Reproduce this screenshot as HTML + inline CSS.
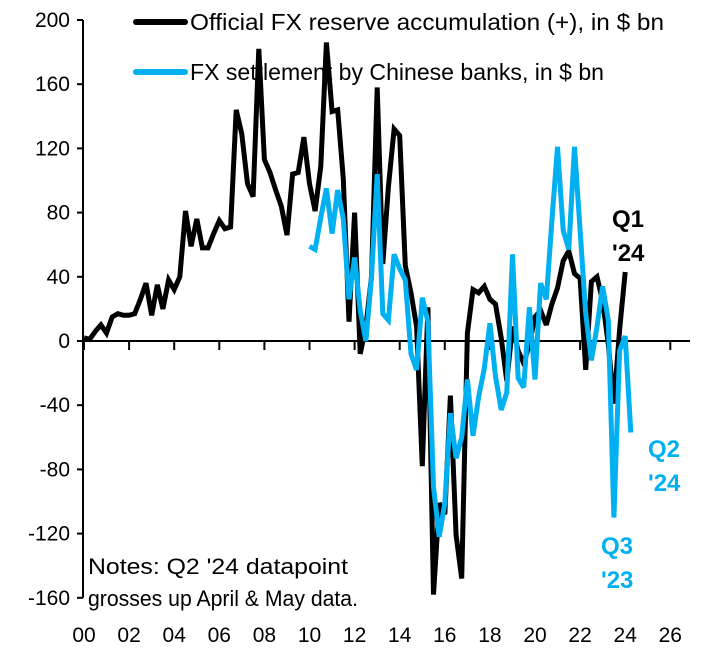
<!DOCTYPE html>
<html><head><meta charset="utf-8"><style>
html,body{margin:0;padding:0;background:#fff;}
svg{display:block;font-family:"Liberation Sans",sans-serif;}
</style></head><body>
<svg id="chart" width="707" height="652" viewBox="0 0 707 652"></svg>
<script>
const yTicks=[200,160,120,80,40,0,-40,-80,-120,-160];
const xLabels=["00","02","04","06","08","10","12","14","16","18","20","22","24","26"];
const reserveStartQ=0;
const reserveValues=[2,1,6,10,5,15,17,16,16,17,26,36,16,35,20,38,32,40,81,59,76,58,58,67,75,70,71,144,129,98,90,182,113,105,94,84,66,104,105,127,98,81,109,186,143,144,101,12,80,-8,9,40,158,48,96,132,128,47,30,9,-78,21,-158,-101,-108,-34,-121,-148,5,32,30,34,26,23,2,-25,9,-6,-14,-2,15,19,10,23,33,50,56,42,39,-18,37,40,25,-2,-39,7,43];
const settleStartQ=40;
const settleValues=[59,57,77,95,67,94,76,26,52,19,0,40,104,17,13,54,45,38,-8,-18,27,12,-91,-122,-101,-45,-73,-60,-24,-59,-35,-17,11,-22,-43,-32,54,-23,-29,21,-24,36,26,75,121,69,57,121,69,17,-12,9,34,13,-110,-6,3,-57];
const ns="http://www.w3.org/2000/svg";
const svg=document.getElementById('chart');
const X0=84,PXY=22.55;
function xq(q){return X0+PXY*q/4;}
function yv(v){return 341-v*1.605;}
function mk(t,a){const e=document.createElementNS(ns,t);for(const k in a)e.setAttribute(k,a[k]);svg.appendChild(e);return e;}
let ax=mk('line',{x1:83,y1:yv(200),x2:83,y2:yv(-160),stroke:'#000','stroke-width':2});


let xa=mk('line',{x1:83,y1:341,x2:690,y2:341,stroke:'#000','stroke-width':2});


yTicks.forEach(v=>{
  const t=mk('line',{x1:77,y1:yv(v),x2:83,y2:yv(v),stroke:'#000','stroke-width':2});
  
  
  const l=mk('text',{x:70,y:yv(v)+7,'text-anchor':'end','font-size':21,fill:'#000'});
  l.textContent=v;
  
  
});
xLabels.forEach((s,i)=>{
  const x=xq(i*8);
  const t=mk('line',{x1:x,y1:341,x2:x,y2:350,stroke:'#000','stroke-width':2});
  
  
  const l=mk('text',{x:x,y:642,'text-anchor':'middle','font-size':21,fill:'#000'});
  l.textContent=s;
  
  
});
function series(vals,start,color,name){
  const pts=vals.map((v,i)=>xq(start+i).toFixed(1)+','+yv(v).toFixed(1)).join(' ');
  const p=mk('polyline',{points:pts,fill:'none',stroke:color,'stroke-width':5,'stroke-linejoin':'miter','stroke-miterlimit':3});
  
  
}
series(reserveValues,reserveStartQ,'#000','reserve-line');
series(settleValues,settleStartQ,'#00b0f0','settlement-line');
const lg=[['#000','Official FX reserve accumulation (+), in $ bn',22,474],['#00b0f0','FX settlement by Chinese banks, in $ bn',72,414]];
lg.forEach((d,i)=>{
  const l=mk('line',{x1:136,y1:d[2],x2:185,y2:d[2],stroke:d[0],'stroke-width':6,'stroke-linecap':'round'});
  
  
  const t=mk('text',{x:190,y:d[2]+8,'font-size':23,fill:'#000',textLength:d[3],lengthAdjust:'spacingAndGlyphs'});
  t.textContent=d[1];
  
  
});
const ann=[['Q1',"'24",612,227,'#000'],['Q2',"'24",648,457,'#00b0f0'],['Q3',"'23",601,554,'#00b0f0']];
ann.forEach(a=>{
  const t=mk('text',{x:a[2],y:a[3],'font-size':24,'font-weight':'bold',fill:a[4]});
  t.textContent=a[0];
  
  
  const t2=mk('text',{x:a[2],y:a[3]+34,'font-size':24,'font-weight':'bold',fill:a[4]});
  t2.textContent=a[1];
  
  
});
const n1=mk('text',{x:88,y:574,'font-size':22,fill:'#000',textLength:260,lengthAdjust:'spacingAndGlyphs'});
n1.textContent="Notes: Q2 '24 datapoint";


const n2=mk('text',{x:88,y:606,'font-size':22,fill:'#000',textLength:270,lengthAdjust:'spacingAndGlyphs'});
n2.textContent="grosses up April & May data.";


</script>
</body></html>
